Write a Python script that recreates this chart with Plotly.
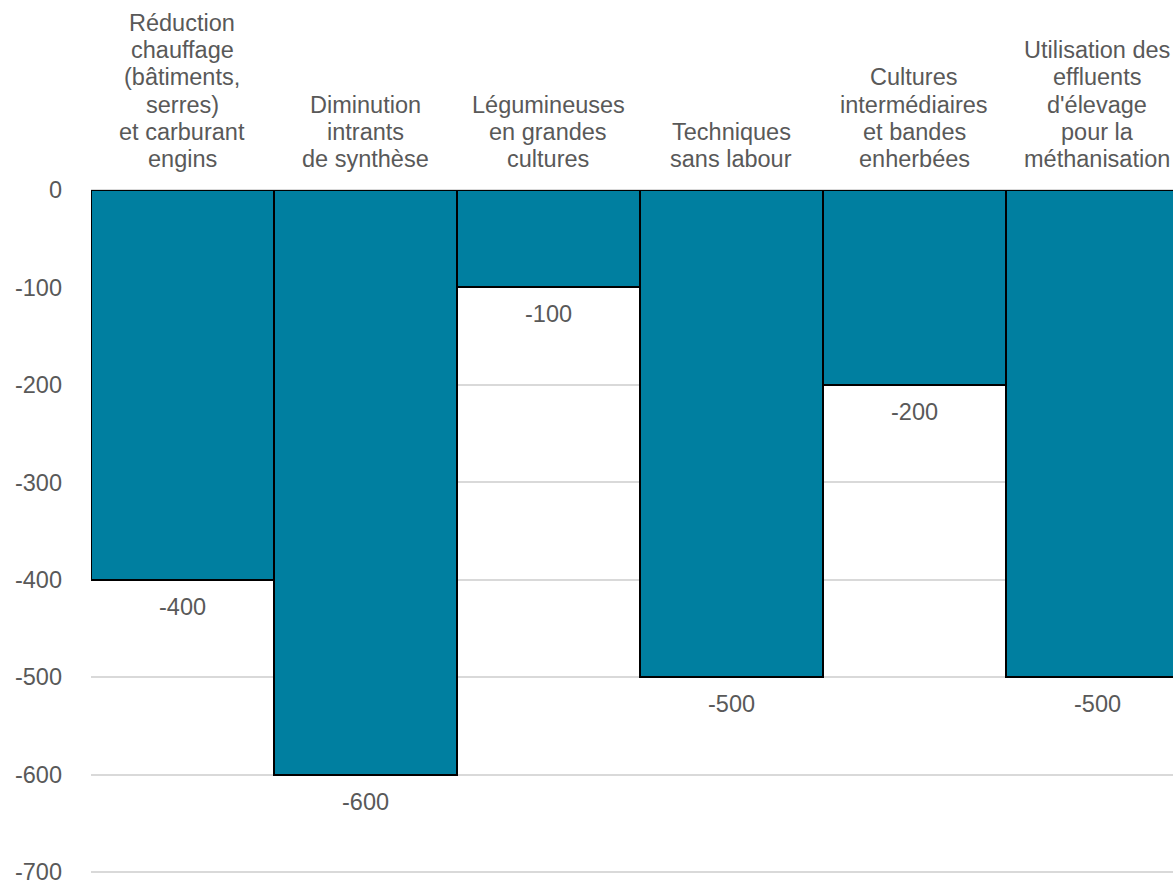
import plotly.graph_objects as go

categories = [
    "Réduction<br>chauffage<br>(bâtiments,<br>serres)<br>et carburant<br>engins",
    "Diminution<br>intrants<br>de synthèse",
    "Légumineuses<br>en grandes<br>cultures",
    "Techniques<br>sans labour",
    "Cultures<br>intermédiaires<br>et bandes<br>enherbées",
    "Utilisation des<br>effluents<br>d'élevage<br>pour la<br>méthanisation",
]
values = [-400, -600, -100, -500, -200, -500]
y_ticks = [0, -100, -200, -300, -400, -500, -600, -700]

BAR = "#007FA0"
TXT = "#595959"
FONT = "Liberation Sans, Arial, sans-serif"
FS = 23.5

x_idx = list(range(len(categories)))

fig = go.Figure()
fig.add_trace(go.Bar(
    x=x_idx, y=values,
    marker=dict(color=BAR, line=dict(color="#000000", width=2)),
    width=1.0,
    hoverinfo="skip",
))

annotations = []
# data labels under bars
for xi, v in zip(x_idx, values):
    annotations.append(dict(
        x=xi, y=v, xref="x", yref="y", text=str(v), showarrow=False,
        yanchor="middle", yshift=-27,
        font=dict(family=FONT, size=FS, color=TXT),
    ))
# category labels above plot, one annotation per line for spacing control
LINE = 27.2
for xi, lab in zip(x_idx, categories):
    lines = lab.split("<br>")
    n = len(lines)
    for k, ln in enumerate(lines):
        annotations.append(dict(
            x=xi, y=1, xref="x", yref="paper", text=ln, showarrow=False,
            yanchor="middle", yshift=31 + (n - 1 - k) * LINE,
            font=dict(family=FONT, size=FS, color=TXT),
        ))

fig.update_layout(
    width=1173, height=882,
    margin=dict(l=91, r=0, t=190, b=8),
    paper_bgcolor="white", plot_bgcolor="white",
    showlegend=False,
    bargap=0,
    annotations=annotations,
    xaxis=dict(range=[-0.5, 5.413], showticklabels=False, showgrid=False,
               zeroline=False, showline=False, fixedrange=True),
    yaxis=dict(range=[-702, 0], tickvals=y_ticks, ticktext=[str(t) for t in y_ticks],
               showgrid=True, gridcolor="#D9D9D9", gridwidth=2,
               zeroline=True, zerolinecolor="#D9D9D9", zerolinewidth=2,
               showline=False, ticks="", ticklabelstandoff=28, automargin=False,
               ticklabeloverflow="allow",
               tickfont=dict(family=FONT, size=FS, color=TXT), fixedrange=True),
)

fig.write_html(
    "out.html",
    config={"displayModeBar": False},
    post_script="document.body.style.margin='0';document.body.style.overflow='hidden';",
)
